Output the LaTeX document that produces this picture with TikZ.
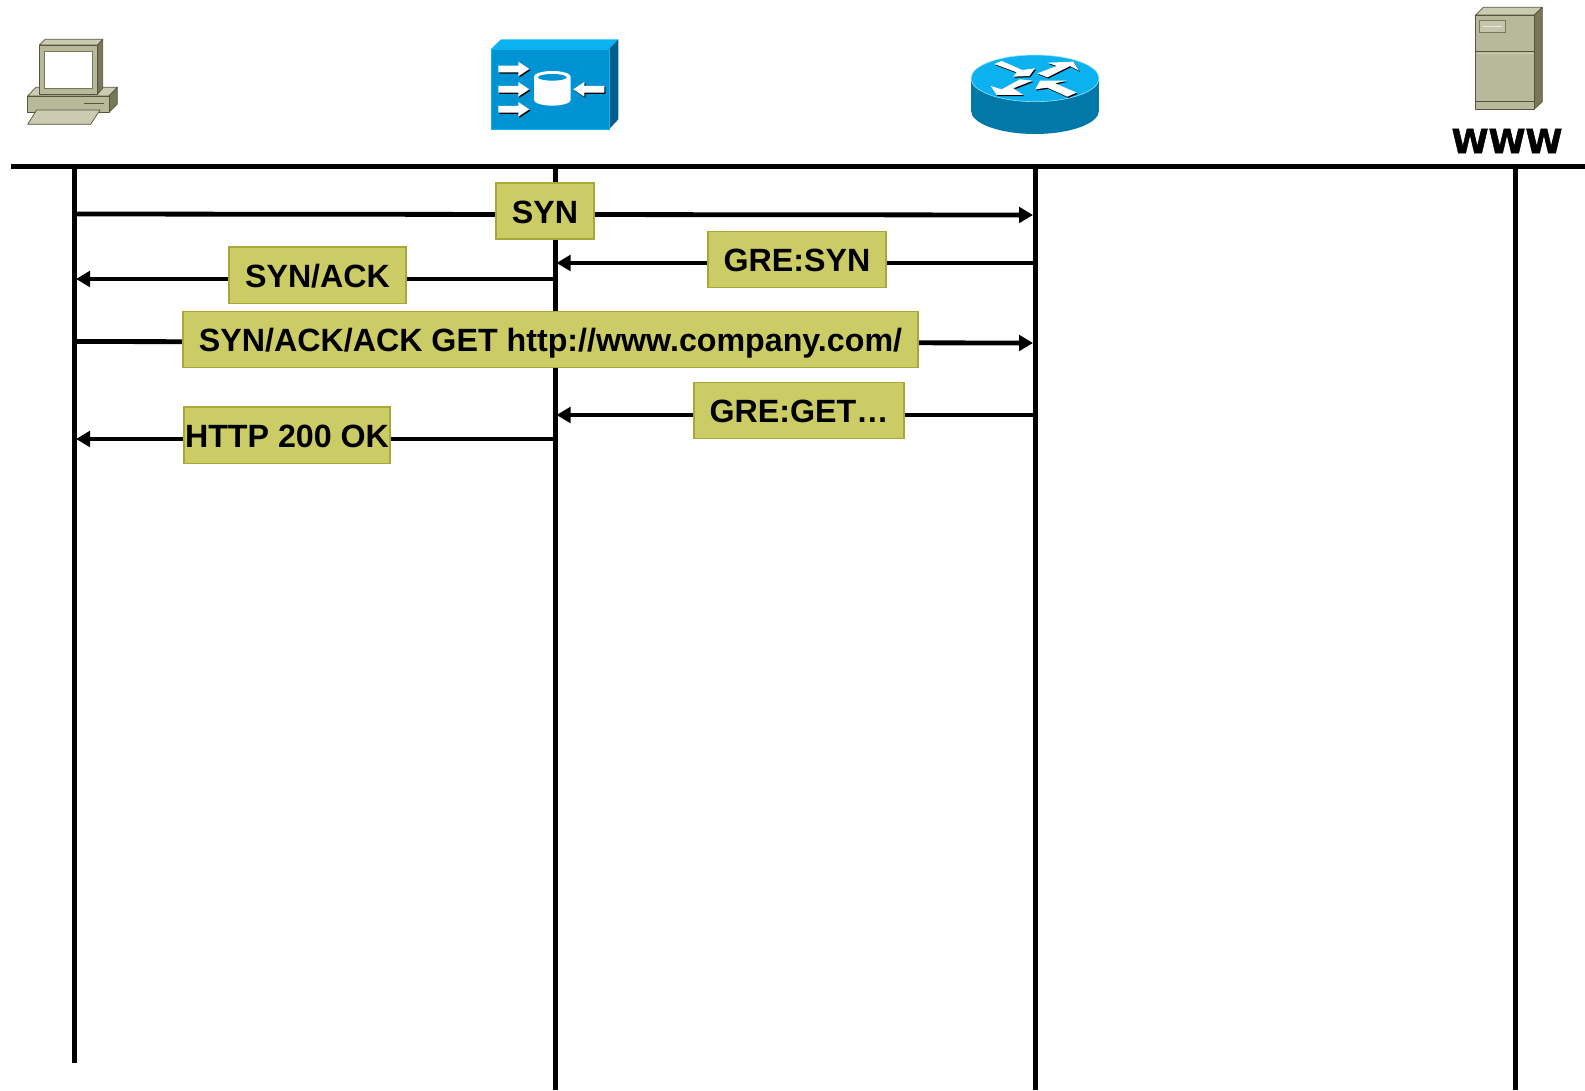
\documentclass[tikz,border=0pt]{standalone}
\usepackage{fontspec}
\setmainfont{Liberation Sans}
\newfontfamily\wwwfont[BoldFeatures={FakeBold=1.5}]{DejaVu Sans}
\usetikzlibrary{arrows.meta}
\definecolor{lblfill}{HTML}{CCCC66}
\definecolor{lbldraw}{HTML}{A8A838}
\definecolor{pcface}{HTML}{B8B89A}
\definecolor{pctop}{HTML}{CBCBB2}
\definecolor{pcside}{HTML}{77775A}
\definecolor{pcline}{HTML}{55553F}
\definecolor{ciscoface}{HTML}{0093D3}
\definecolor{ciscotop}{HTML}{0CB2F0}
\definecolor{ciscoside}{HTML}{005F8A}
\definecolor{routerside}{HTML}{0079A8}

\begin{document}
\begin{tikzpicture}[
  x=1pt,y=-1pt,
  wire/.style={line width=5pt},
  msg/.style={line width=4.8pt,-{Triangle[length=14pt,width=15.5pt]}},
  lbl/.style={draw=lbldraw,fill=lblfill,line width=1.8pt,inner sep=0pt,minimum height=56pt,text height=24pt,text depth=0pt,font=\fontsize{32.2}{33}\selectfont\bfseries},
  pcpart/.style={draw=pcline,line width=0.7pt,line join=round},
  icon/.style={x=0.3333pt,y=-0.3333pt},
  wharrow/.style={fill=white,draw=none,preaction={fill=black,transform canvas={shift={(1pt,-1.2pt)}}}}
]
\useasboundingbox (0,0) rectangle (1585,1090);

\coordinate (barL) at (11,166.5);
\coordinate (barR) at (1585,166.5);
\coordinate (pcT) at (74,166.5);
\coordinate (pcB) at (74,1063);
\coordinate (wccpT) at (555,166.5);
\coordinate (wccpB) at (555,1090);
\coordinate (rtrT) at (1035,166.5);
\coordinate (rtrB) at (1035,1090);
\coordinate (srvT) at (1515,166.5);
\coordinate (srvB) at (1515,1090);
\draw[wire] (barL) -- (barR);
\draw[wire] (pcT) -- (pcB);
\draw[wire] (wccpT) -- (wccpB);
\draw[wire] (rtrT) -- (rtrB);
\draw[wire] (srvT) -- (srvB);

\coordinate (m1a) at (74,214);
\coordinate (m1b) at (1033,215);
\coordinate (m2a) at (1035,263);
\coordinate (m2b) at (556.5,263);
\coordinate (m3a) at (555,279);
\coordinate (m3b) at (76,279);
\coordinate (m4a) at (74,341.5);
\coordinate (m4b) at (1033,343);
\coordinate (m5a) at (1035,415);
\coordinate (m5b) at (556.5,415);
\coordinate (m6a) at (555,439);
\coordinate (m6b) at (76,439);
\draw[msg] (m1a) -- (m1b);
\draw[msg] (m2a) -- (m2b);
\draw[msg] (m3a) -- (m3b);
\draw[msg] (m4a) -- (m4b);
\draw[msg] (m5a) -- (m5b);
\draw[msg] (m6a) -- (m6b);

\node[lbl,minimum width=98.5pt] (syn) at (545,211) {SYN};
\node[lbl,minimum width=178.5pt] (gresyn) at (797,259.5) {GRE:SYN};
\node[lbl,minimum width=176.5pt,minimum height=56.5pt] (synack) at (317.5,275.2) {SYN/ACK};
\node[lbl,minimum width=735.5pt] (get) at (550.5,339.5) {SYN/ACK/ACK GET http://www.company.com/};
\node[lbl,minimum width=210.5pt] (gre) at (799,410.5) {GRE:GET…};
\node[lbl,minimum width=205.5pt,minimum height=56.5pt] (ok) at (287,435.2) {HTTP 200 OK};

\begin{scope}[shift={(0pt,-20pt)},icon]
  \fill[pcline] (100,222) rectangle (300,232);
  \draw[pcpart,fill=pctop] (83,228) -- (108,202) -- (352,202) -- (327,228) -- cycle;
  \draw[pcpart,fill=pcside] (327,228) -- (352,202) -- (352,252) -- (327,277) -- cycle;
  \draw[pcpart,fill=pcface] (83,228) rectangle (327,277);
  \draw[pcline,line width=1.2pt] (252,250) -- (312,250);
  \draw[pcpart,fill=pctop] (83,313) -- (110,270) -- (300,270) -- (272,313) -- cycle;
  \draw[pcpart,fill=pctop] (118,75) -- (135,58) -- (308,58) -- (293,75) -- cycle;
  \draw[pcpart,fill=pcside] (293,75) -- (308,58) -- (308,205) -- (293,222) -- cycle;
  \draw[pcpart,fill=pcface] (118,75) rectangle (293,222);
  \draw[draw=pcside,fill=white,line width=1.2pt] (133,95) rectangle (277,205);
\end{scope}

\begin{scope}[shift={(480pt,-25pt)},icon]
  \fill[ciscotop] (33,72) -- (63,43) -- (415,43) -- (387,72) -- cycle;
  \fill[ciscoside] (387,72) -- (415,43) -- (415,283) -- (387,313) -- cycle;
  \draw[draw=ciscotop,fill=ciscoface,line width=0.6pt] (33,72) rectangle (387,313);
  \foreach \ya in {132,193,253}
    \path[wharrow] (55,\ya-10) -- (115,\ya-10) -- (115,\ya-22) -- (148,\ya) -- (115,\ya+22) -- (115,\ya+10) -- (55,\ya+10) -- cycle;
  \path[wharrow] (373,183) -- (313,183) -- (313,171) -- (280,193) -- (313,215) -- (313,203) -- (373,203) -- cycle;
  \fill[white] (162,155) -- (162,225) arc[start angle=180,end angle=0,x radius=55,y radius=17] -- (272,155) arc[start angle=0,end angle=-180,x radius=55,y radius=17] -- cycle;
  \fill[ciscoface] (217,157) ellipse[x radius=43,y radius=10];
\end{scope}

\begin{scope}[shift={(960pt,-40pt)},icon]
  \fill[routerside] (33,115) -- (33,212) arc[start angle=180,end angle=0,x radius=192,y radius=70] -- (417,115) -- cycle;
  \draw[draw=white!60!ciscotop,fill=ciscotop,line width=0.6pt] (225,115) ellipse[x radius=192,y radius=70];
  \path[wharrow] (103,72) -- (125,63) -- (187,90) -- (225,85) -- (208,108) -- (160,110) -- (170,97) -- cycle;
  \path[wharrow] (232,100) -- (290,78) -- (262,68) -- (340,65) -- (357,92) -- (330,78) -- (262,112) -- cycle;
  \path[wharrow] (218,122) -- (160,145) -- (190,165) -- (110,165) -- (92,138) -- (125,148) -- (180,118) -- cycle;
  \path[wharrow] (350,158) -- (322,170) -- (262,143) -- (226,148) -- (240,122) -- (320,122) -- (285,130) -- cycle;
\end{scope}

\begin{scope}[shift={(1440pt,0pt)},icon]
  \draw[pcpart,fill=pctop] (107,45) -- (130,22) -- (307,22) -- (283,45) -- cycle;
  \draw[pcpart,fill=pcside] (283,45) -- (307,22) -- (307,305) -- (283,327) -- cycle;
  \draw[pcpart,fill=pcface] (107,45) rectangle (283,327);
  \draw[pcline,line width=0.8pt] (107,155) -- (283,155);
  \draw[pctop,line width=0.8pt] (107,159) -- (283,159);
  \draw[pcline,line width=1pt] (107,306) -- (283,306);
  \draw[pcside,fill=pctop!70!pcface,line width=0.7pt] (118,62) rectangle (197,97);
  \draw[pctop!40!white,line width=0.9pt] (128,80) -- (185,80);
\end{scope}

\node[font=\wwwfont\fontsize{33.5}{34}\selectfont\bfseries,inner sep=0pt] (www) at (1507,141) {WWW};
\end{tikzpicture}
\end{document}
